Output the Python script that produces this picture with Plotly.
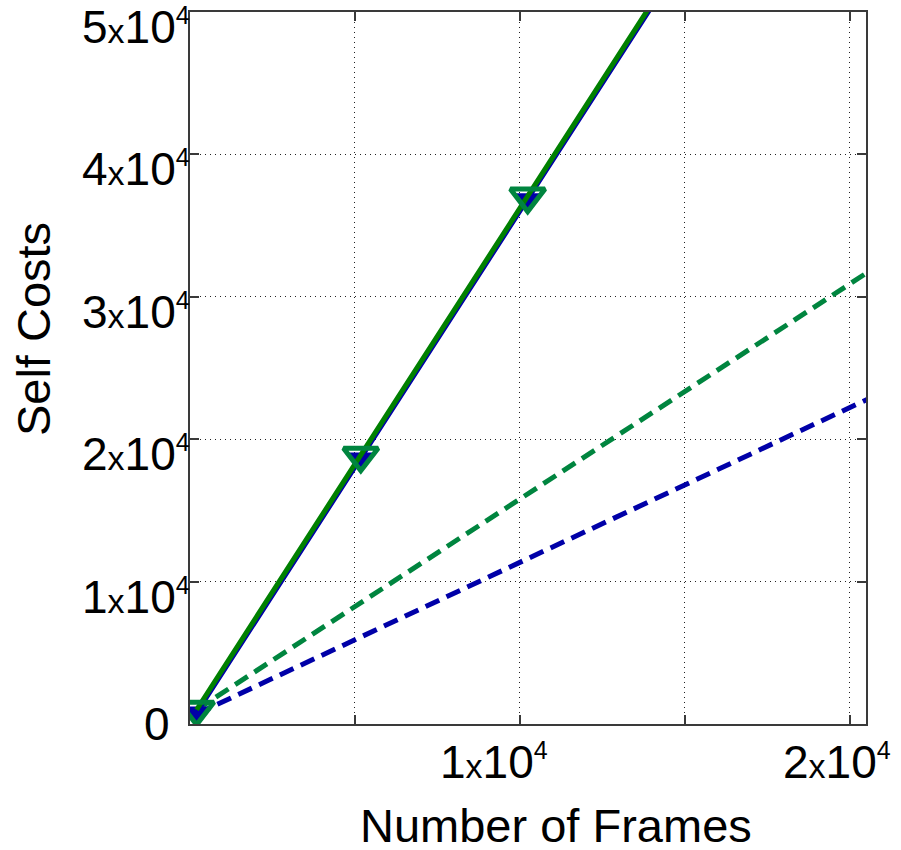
import plotly.graph_objects as go

# Measured self costs against the number of frames
frames = [200, 5180, 10240, 15300, 20400]
cost_green = [1000, 18840, 37040, 55250, 73600]
cost_blue = [800, 18650, 36850, 55050, 73400]

# Linear predictions (dashed)
frames_pred = [200, 21000]
pred_green = [1000, 32400]
pred_blue = [700, 23300]

# Tick positions and labels
x_grid = [5000, 10000, 15000, 20000]
x_label_vals = [10000, 20000]
x_label_mant = ["1", "2"]
y_vals = [0, 10000, 20000, 30000, 40000, 50000]
y_label_mant = ["0", "1", "2", "3", "4", "5"]

FONT = "Liberation Sans, Arial, Helvetica, sans-serif"
GREEN = "#008000"
GREEN_D = "#00853F"
BLUE = "#0000A8"


def sci(m):
    if m == "0":
        return "0"
    return (m + "<span style='font-size:34px'>x</span>10"
            "<sup><span style='font-size:25px'>4</span></sup>")


fig = go.Figure()

fig.add_trace(go.Scatter(x=frames_pred, y=pred_blue, mode="lines",
                         line=dict(color=BLUE, width=5, dash="15px,8px")))
fig.add_trace(go.Scatter(x=frames_pred, y=pred_green, mode="lines",
                         line=dict(color=GREEN_D, width=5, dash="15px,8px")))
fig.add_trace(go.Scatter(x=frames, y=cost_blue, mode="lines+markers",
                         line=dict(color=BLUE, width=5),
                         marker=dict(symbol="triangle-down", size=20, color=BLUE,
                                     line=dict(color=BLUE, width=2))))
fig.add_trace(go.Scatter(x=frames, y=cost_green, mode="lines+markers",
                         line=dict(color=GREEN, width=5),
                         marker=dict(symbol="triangle-down-open", size=30,
                                     color=GREEN_D, line=dict(color=GREEN_D, width=5))))

annotations = []
for v, m in zip(y_vals, y_label_mant):
    annotations.append(dict(
        x=0, y=v, xref="x", yref="y", text=sci(m), showarrow=False,
        xanchor="right", yanchor="middle",
        xshift=-18 if m == "0" else 2, yshift=0 if m == "0" else -15,
        font=dict(family=FONT, size=46, color="black")))
for v, m, dx in zip(x_label_vals, x_label_mant, [-26, -13]):
    annotations.append(dict(
        x=v, y=0, xref="x", yref="y", text=sci(m), showarrow=False,
        xanchor="center", yanchor="top", xshift=dx, yshift=-10,
        font=dict(family=FONT, size=46, color="black")))

annotations.append(dict(
    x=556, y=826, xref="paper", yref="paper", text="Number of Frames",
    xanchor="center", yanchor="middle",
    showarrow=False, font=dict(family=FONT, size=47, color="black")))
annotations.append(dict(
    x=33, y=328, xref="paper", yref="paper", text="Self Costs", textangle=-90,
    xanchor="center", yanchor="middle",
    showarrow=False, font=dict(family=FONT, size=47, color="black")))

# convert pixel positions of the titles to paper fractions
W, H = 901, 850
L, R, T, B = 190, 35, 10, 126
for a in annotations[-2:]:
    a["x"] = (a["x"] - L) / (W - L - R)
    a["y"] = (H - B - a["y"]) / (H - T - B)

axis_common = dict(
    showline=True, linecolor="#3a3a3a", linewidth=1.5, mirror="ticks",
    ticks="inside", ticklen=9, tickcolor="#3a3a3a", tickwidth=1.5,
    showgrid=True, gridcolor="#222222", gridwidth=1, griddash="1px,4px",
    zeroline=False, showticklabels=False,
)

fig.update_layout(
    width=W, height=H,
    margin=dict(l=L, r=R, t=T, b=B, pad=0),
    plot_bgcolor="white", paper_bgcolor="white",
    showlegend=False,
    xaxis=dict(range=[0, 20500], tickvals=x_grid, **axis_common),
    yaxis=dict(range=[0, 50000], tickvals=y_vals, **axis_common),
    annotations=annotations,
)

fig.write_html("out.html")
